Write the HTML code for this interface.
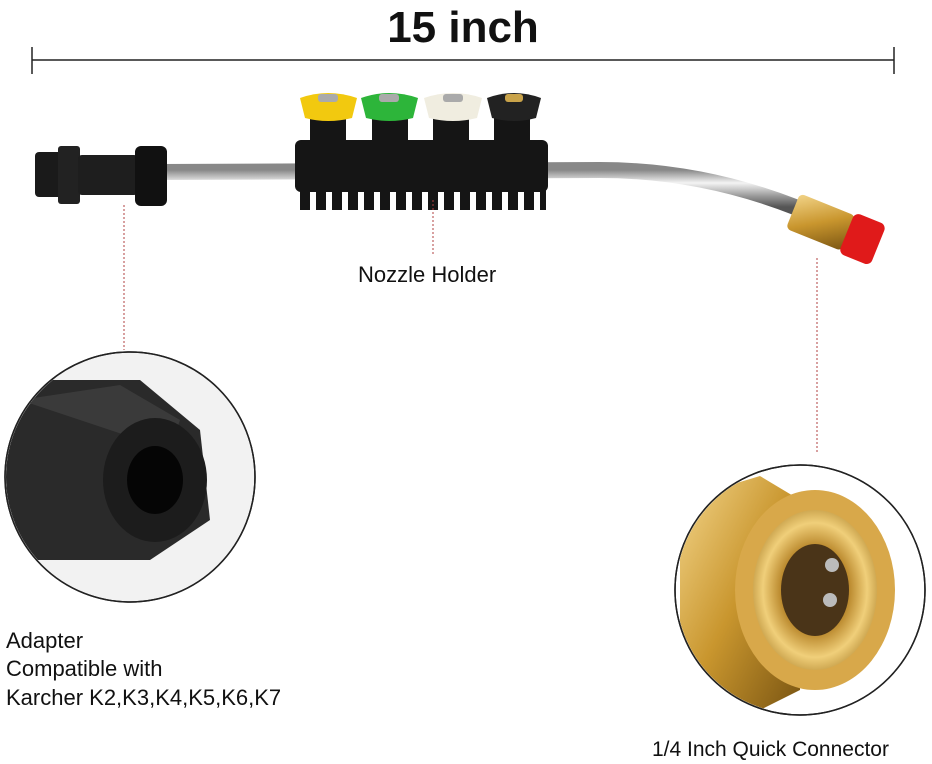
<!DOCTYPE html>
<html><head><meta charset="utf-8"><style>
html,body{margin:0;padding:0;background:#fff;}
svg{display:block;}
text{font-family:"Liberation Sans",sans-serif;fill:#111;}
</style></head><body>
<svg width="932" height="764" viewBox="0 0 932 764" xmlns="http://www.w3.org/2000/svg">
<defs>
<linearGradient id="rod" x1="0" y1="0" x2="0" y2="1">
<stop offset="0" stop-color="#888"/><stop offset="0.35" stop-color="#f4f4f4"/><stop offset="0.7" stop-color="#9a9a9a"/><stop offset="1" stop-color="#555"/></linearGradient>
<linearGradient id="brass" x1="0" y1="0" x2="1" y2="1">
<stop offset="0" stop-color="#f3d58a"/><stop offset="0.5" stop-color="#c9962e"/><stop offset="1" stop-color="#7a5512"/></linearGradient>
<radialGradient id="brass2" cx="0.5" cy="0.5" r="0.6">
<stop offset="0" stop-color="#5a3a10"/><stop offset="0.45" stop-color="#b8862a"/><stop offset="0.7" stop-color="#f0cf7a"/><stop offset="1" stop-color="#a77a22"/></radialGradient>
<clipPath id="cl"><circle cx="130" cy="477" r="124"/></clipPath>
<clipPath id="cr"><circle cx="800" cy="590" r="124"/></clipPath>
<pattern id="teeth" x="298" y="0" width="16" height="30" patternUnits="userSpaceOnUse">
<rect x="2" y="0" width="10" height="30" fill="#151515"/></pattern>
</defs>

<text x="463" y="42" font-size="44" font-weight="bold" text-anchor="middle">15 inch</text>
<line x1="32" y1="60" x2="894" y2="60" stroke="#222" stroke-width="1.5"/>
<line x1="32" y1="47" x2="32" y2="74" stroke="#222" stroke-width="1.5"/>
<line x1="894" y1="47" x2="894" y2="74" stroke="#222" stroke-width="1.5"/>

<path d="M160 172 L600 170 Q700 170 795 207" stroke="url(#rod)" stroke-width="16" fill="none"/>

<rect x="35" y="152" width="30" height="45" rx="4" fill="#1a1a1a"/>
<rect x="58" y="146" width="22" height="58" rx="3" fill="#222"/>
<rect x="78" y="155" width="60" height="40" rx="4" fill="#1e1e1e"/>
<rect x="135" y="146" width="32" height="60" rx="6" fill="#111"/>

<rect x="295" y="140" width="253" height="52" rx="6" fill="#151515"/>
<rect x="298" y="185" width="248" height="25" fill="url(#teeth)"/>
<g fill="#151515">
<rect x="310" y="118" width="36" height="30"/><rect x="372" y="118" width="36" height="30"/>
<rect x="433" y="118" width="36" height="30"/><rect x="494" y="118" width="36" height="30"/>
</g>
<path d="M300 98 Q328 88 357 98 L352 118 Q328 124 305 118 Z" fill="#f2c90f"/>
<rect x="318" y="94" width="20" height="8" rx="3" fill="#aaa"/>
<path d="M361 98 Q389 88 418 98 L413 118 Q389 124 366 118 Z" fill="#2db53a"/>
<rect x="379" y="94" width="20" height="8" rx="3" fill="#aaa"/>
<path d="M424 98 Q453 88 482 98 L477 118 Q453 124 429 118 Z" fill="#f0ede0"/>
<rect x="443" y="94" width="20" height="8" rx="3" fill="#aaa"/>
<path d="M487 98 Q514 88 541 98 L536 118 Q514 124 492 118 Z" fill="#222"/>
<rect x="505" y="94" width="18" height="8" rx="3" fill="#c9a34a"/>

<g transform="rotate(22 825 225)">
<rect x="790" y="205" width="60" height="38" rx="5" fill="url(#brass)"/>
<rect x="848" y="202" width="34" height="44" rx="6" fill="#e01a1a"/>
</g>

<line x1="124" y1="205" x2="124" y2="350" stroke="#b04040" stroke-width="1" stroke-dasharray="2,2"/>
<line x1="433" y1="200" x2="433" y2="256" stroke="#b04040" stroke-width="1" stroke-dasharray="2,2"/>
<line x1="817" y1="258" x2="817" y2="452" stroke="#b04040" stroke-width="1" stroke-dasharray="2,2"/>

<text x="358" y="282" font-size="22">Nozzle Holder</text>

<circle cx="130" cy="477" r="125" fill="#f2f2f2" stroke="#222" stroke-width="1.5"/>
<g clip-path="url(#cl)">
<path d="M0 380 L140 380 L200 430 L210 520 L150 560 L0 560 Z" fill="#2a2a2a"/>
<path d="M20 400 L120 385 L180 420 L170 450 Z" fill="#3a3a3a"/>
<ellipse cx="155" cy="480" rx="52" ry="62" fill="#1c1c1c"/>
<ellipse cx="155" cy="480" rx="28" ry="34" fill="#050505"/>
</g>
<circle cx="130" cy="477" r="125" fill="none" stroke="#222" stroke-width="1.5"/>

<circle cx="800" cy="590" r="125" fill="#fff" stroke="#222" stroke-width="1.5"/>
<g clip-path="url(#cr)">
<path d="M680 500 L760 476 L800 500 L800 690 L760 710 L680 680 Z" fill="url(#brass)"/>
<ellipse cx="815" cy="590" rx="80" ry="100" fill="#d8a84a"/>
<ellipse cx="815" cy="590" rx="62" ry="80" fill="url(#brass2)"/>
<ellipse cx="815" cy="590" rx="34" ry="46" fill="#4a3418"/>
<circle cx="832" cy="565" r="7" fill="#bbb"/><circle cx="830" cy="600" r="7" fill="#bbb"/>
</g>
<circle cx="800" cy="590" r="125" fill="none" stroke="#222" stroke-width="1.5"/>

<text x="6" y="648" font-size="22">Adapter</text>
<text x="6" y="676" font-size="22">Compatible with</text>
<text x="6" y="705" font-size="22">Karcher K2,K3,K4,K5,K6,K7</text>
<text x="652" y="756" font-size="21">1/4 Inch Quick Connector</text>
</svg>
</body></html>
